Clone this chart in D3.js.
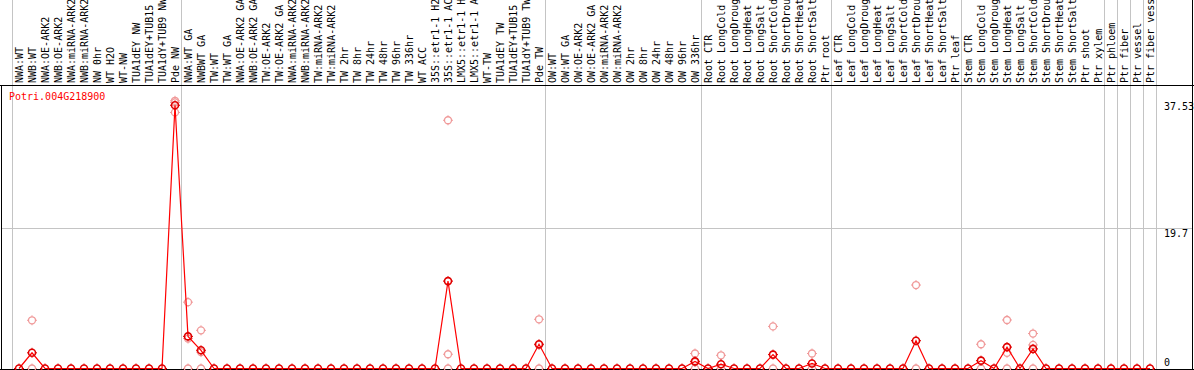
<!DOCTYPE html>
<html>
<head>
<meta charset="utf-8">
<script src="https://cdn.jsdelivr.net/npm/d3@7/dist/d3.min.js"></script>
<style>
  body { margin: 0; background: #fff; }
  svg { display: block; }
  text { font-family: "DejaVu Sans Mono", monospace; font-size: 10px; }
</style>
</head>
<body>
<div id="chart"></div>
<script>
// sample names, one list per tissue group
var nwSamples = ['NWA:WT', 'NWB:WT', 'NWA:OE-ARK2', 'NWB:OE-ARK2', 'NWA:miRNA-ARK2', 'NWB:miRNA-ARK2',
  'NW 0hr', 'WT H2O', 'WT-NW', 'TUA1dEY NW', 'TUA1dEY+TUB15 NW', 'TUA1dY+TUB9 NW', 'Pde NW'];
var twSamples = ['NWA:WT GA', 'NWBWT GA', 'TW:WT', 'TW:WT GA', 'NWA:OE-ARK2 GA', 'NWB:OE-ARK2 GA',
  'TW:OE-ARK2', 'TW:OE-ARK2 GA', 'NWA:miRNA-ARK2 GA', 'NWB:miRNA-ARK2 GA', 'TW:miRNA-ARK2', 'TW:miRNA-ARK2 GA',
  'TW 2hr', 'TW 8hr', 'TW 24hr', 'TW 48hr', 'TW 96hr', 'TW 336hr', 'WT ACC',
  '35S::etr1-1 H2O', '35S::etr1-1 ACC', 'LMX5::etr1-1 H2O', 'LMX5::etr1-1 ACC',
  'WT-TW', 'TUA1dEY TW', 'TUA1dEY+TUB15 TW', 'TUA1dY+TUB9 TW', 'Pde TW'];
var owSamples = ['OW:WT', 'OW:WT GA', 'OW:OE-ARK2', 'OW:OE-ARK2 GA', 'OW:miRNA-ARK2', 'OW:miRNA-ARK2 GA',
  'OW 2hr', 'OW 8hr', 'OW 24hr', 'OW 48hr', 'OW 96hr', 'OW 336hr'];
var rootSamples = ['Root CTR', 'Root LongCold', 'Root LongDrought', 'Root LongHeat', 'Root LongSalt',
  'Root ShortCold', 'Root ShortDrought', 'Root ShortHeat', 'Root ShortSalt', 'Ptr root'];
var leafSamples = ['Leaf CTR', 'Leaf LongCold', 'Leaf LongDrought', 'Leaf LongHeat', 'Leaf LongSalt',
  'Leaf ShortCold', 'Leaf ShortDrought', 'Leaf ShortHeat', 'Leaf ShortSalt', 'Ptr leaf'];
var stemSamples = ['Stem CTR', 'Stem LongCold', 'Stem LongDrought', 'Stem LongHeat', 'Stem LongSalt',
  'Stem ShortCold', 'Stem ShortDrought', 'Stem ShortHeat', 'Stem ShortSalt', 'Ptr shoot', 'Ptr xylem'];
var ptrSamples = ['Ptr phloem', 'Ptr fiber', 'Ptr vessel', 'Ptr fiber vessel'];

// mean expression per sample (same order as above)
var nwMeans = [0, 2.2, 0, 0, 0, 0, 0, 0, 0, 0, 0, 0, 36.9];
var twMeans = [4.5, 2.55, 0, 0, 0, 0, 0, 0, 0, 0, 0, 0, 0, 0, 0, 0, 0, 0, 0, 0, 12.25, 0, 0, 0, 0, 0, 0, 3.4];
var owMeans = [0, 0, 0, 0, 0, 0, 0, 0, 0, 0, 0, 1.0];
var rootMeans = [0, 0.6, 0, 0, 0, 1.95, 0, 0, 0.7, 0];
var leafMeans = [0, 0, 0, 0, 0, 0, 3.9, 0, 0, 0];
var stemMeans = [0, 1.1, 0, 3.0, 0, 2.75, 0, 0, 0, 0, 0];
var ptrMeans = [0, 0, 0, 0];

// individual replicates (only samples with signal)
var replicates = [
  ['NWB:WT', 6.76], ['NWB:WT', 0],
  ['Pde NW', 37.53], ['Pde NW', 37.3], ['Pde NW', 35.9],
  ['NWA:WT GA', 9.3], ['NWA:WT GA', 4.2], ['NWA:WT GA', 0],
  ['NWBWT GA', 5.35], ['NWBWT GA', 2.3], ['NWBWT GA', 0],
  ['35S::etr1-1 ACC', 34.8], ['35S::etr1-1 ACC', 2.0], ['35S::etr1-1 ACC', 0],
  ['Pde TW', 6.9], ['Pde TW', 3.3], ['Pde TW', 0],
  ['OW 336hr', 2.1], ['OW 336hr', 0.9], ['OW 336hr', 0],
  ['Root LongCold', 1.85], ['Root LongCold', 0],
  ['Root ShortCold', 5.9], ['Root ShortCold', 0],
  ['Root ShortSalt', 2.1], ['Root ShortSalt', 0],
  ['Leaf ShortDrought', 11.7], ['Leaf ShortDrought', 0],
  ['Stem LongCold', 3.4], ['Stem LongCold', 0],
  ['Stem LongHeat', 6.8], ['Stem LongHeat', 2.2], ['Stem LongHeat', 0],
  ['Stem ShortCold', 4.9], ['Stem ShortCold', 3.3], ['Stem ShortCold', 0]
];

var geneName = 'Potri.004G218900';
var yTicks = [0, 19.7, 37.53];

var groups = [nwSamples, twSamples, owSamples, rootSamples, leafSamples, stemSamples,
  ['Ptr phloem'], ['Ptr fiber'], ['Ptr vessel'], ['Ptr fiber vessel']];
var samples = [].concat(nwSamples, twSamples, owSamples, rootSamples, leafSamples, stemSamples, ptrSamples);
var means = [].concat(nwMeans, twMeans, owMeans, rootMeans, leafMeans, stemMeans, ptrMeans);
var dataset = samples.map(function (s, i) { return { name: s, value: means[i] }; });

var width = 1194, height = 370;
var plotTop = 85, plotBottom = 369, plotLeft = 1, plotRight = 1192;

var svg = d3.select('#chart').append('svg')
  .attr('width', width)
  .attr('height', height);

var xScale = d3.scalePoint().domain(samples).range([19, 1150]);
var yScale = d3.scaleLinear().domain([0, 37.53]).range([368.5, 100.8]);

// vertical group separators, running through the header too
var starts = [];
var count = 0;
groups.forEach(function (g) { starts.push(count); count += g.length; });
starts.push(count);
var step = xScale.step();
svg.append('g').selectAll('line')
  .data(starts)
  .enter().append('line')
  .attr('x1', function (d) { return Math.round(19 + step * d - 7.5) + 0.5; })
  .attr('x2', function (d) { return Math.round(19 + step * d - 7.5) + 0.5; })
  .attr('y1', 0)
  .attr('y2', plotBottom)
  .attr('stroke', '#c4c4c4');

// horizontal grid at mid tick
svg.append('line')
  .attr('x1', plotLeft).attr('x2', plotRight)
  .attr('y1', Math.round(yScale(yTicks[1])) + 0.5)
  .attr('y2', Math.round(yScale(yTicks[1])) + 0.5)
  .attr('stroke', '#c4c4c4');

// column labels
svg.append('g').selectAll('text')
  .data(samples)
  .enter().append('text')
  .attr('transform', function (d) { return 'translate(' + xScale(d) + ',83) rotate(-90)'; })
  .attr('dy', '0.35em')
  .attr('fill', '#000')
  .text(function (d) { return d; });

// borders
svg.append('line').attr('x1', 0).attr('x2', width).attr('y1', plotTop + 0.5).attr('y2', plotTop + 0.5).attr('stroke', '#000');
svg.append('line').attr('x1', 0).attr('x2', width).attr('y1', plotBottom + 0.5).attr('y2', plotBottom + 0.5).attr('stroke', '#000');
svg.append('line').attr('x1', plotLeft + 0.5).attr('x2', plotLeft + 0.5).attr('y1', plotTop).attr('y2', height).attr('stroke', '#000');
svg.append('line').attr('x1', plotRight + 0.5).attr('x2', plotRight + 0.5).attr('y1', 0).attr('y2', height).attr('stroke', '#000');

// y labels on the right
svg.append('g').selectAll('text')
  .data(yTicks)
  .enter().append('text')
  .attr('x', 1164)
  .attr('y', function (d) { return Math.min(yScale(d) + 9.5, 366); })
  .attr('fill', '#000')
  .text(function (d) { return d; });

// marker: small ring with four ticks
function marker(r) {
  return 'M0,' + (-r - 1.5) + 'V' + (-r) + 'M0,' + r + 'V' + (r + 1.5) +
    'M' + (-r - 1.5) + ',0H' + (-r) + 'M' + r + ',0H' + (r + 1.5);
}

var plot = svg.append('g');

// replicate points
var reps = plot.append('g').selectAll('g')
  .data(replicates)
  .enter().append('g')
  .attr('transform', function (d) { return 'translate(' + xScale(d[0]) + ',' + yScale(d[1]) + ')'; });
reps.append('circle').attr('r', 3.5).attr('fill', 'none').attr('stroke', '#f09a9a').attr('stroke-width', 1.3);
reps.append('path').attr('d', marker(3.5)).attr('stroke', '#f09a9a').attr('stroke-width', 1);

// mean line
var lineGenerator = d3.line()
  .x(function (d) { return xScale(d.name); })
  .y(function (d) { return yScale(d.value); });
plot.append('path')
  .attr('d', lineGenerator(dataset))
  .attr('fill', 'none')
  .attr('stroke', 'red')
  .attr('stroke-width', 1.2);

// mean points
var dots = plot.append('g').selectAll('g')
  .data(dataset)
  .enter().append('g')
  .attr('transform', function (d) { return 'translate(' + xScale(d.name) + ',' + yScale(d.value) + ')'; });
dots.append('circle').attr('r', 3.5).attr('fill', 'none').attr('stroke', '#e00000').attr('stroke-width', 1.6);
dots.append('path').attr('d', marker(3.5)).attr('stroke', '#e00000').attr('stroke-width', 1);

// gene name
svg.append('text')
  .attr('x', 9)
  .attr('y', 100)
  .attr('fill', 'red')
  .text(geneName);
</script>
</body>
</html>
